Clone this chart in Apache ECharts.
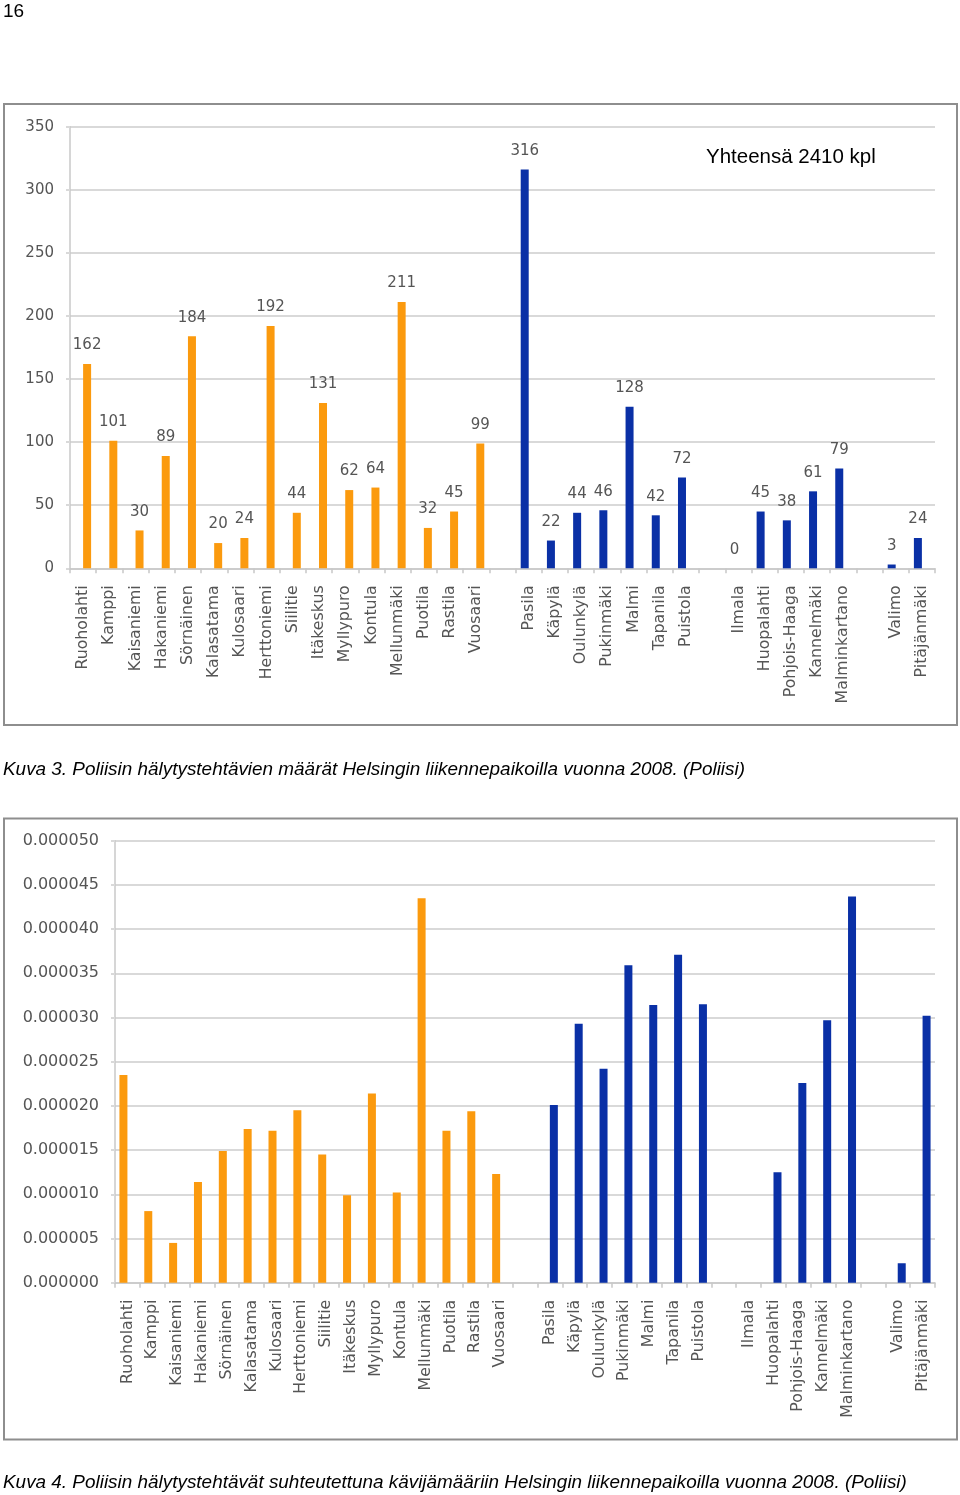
<!DOCTYPE html>
<html><head><meta charset="utf-8">
<script src="https://cdn.jsdelivr.net/npm/echarts@6/dist/echarts.min.js"></script>
<style>html,body{margin:0;padding:0;background:#fff}#c{width:960px;height:1495px}</style>
</head><body><div id="c"></div>
<script>
// ---- data ----
const categories = ['Ruoholahti','Kamppi','Kaisaniemi','Hakaniemi','Sörnäinen','Kalasatama','Kulosaari','Herttoniemi','Siilitie','Itäkeskus','Myllypuro','Kontula','Mellunmäki','Puotila','Rastila','Vuosaari',' ',
  'Pasila','Käpylä','Oulunkylä','Pukinmäki','Malmi','Tapanila','Puistola','  ',
  'Ilmala','Huopalahti','Pohjois-Haaga','Kannelmäki','Malminkartano','   ',
  'Valimo','Pitäjänmäki'];
const countsOrange = [162,101,30,89,184,20,24,192,44,131,62,64,211,32,45,99,'-',
  '-','-','-','-','-','-','-','-','-','-','-','-','-','-','-','-'];
const countsBlue = ['-','-','-','-','-','-','-','-','-','-','-','-','-','-','-','-','-',
  316,22,44,46,128,42,72,'-',0,45,38,61,79,'-',3,24];
const ratesOrange = [0.0000235,0.0000081,0.0000045,0.0000114,0.0000149,0.0000174,0.0000172,0.0000195,0.0000145,0.0000099,0.0000214,0.0000102,0.0000435,0.0000172,0.0000194,0.0000123,'-',
  '-','-','-','-','-','-','-','-','-','-','-','-','-','-','-','-'];
const ratesBlue = ['-','-','-','-','-','-','-','-','-','-','-','-','-','-','-','-','-',
  0.0000201,0.0000293,0.0000242,0.0000359,0.0000314,0.0000371,0.0000315,'-',0,0.0000125,0.0000226,0.0000297,0.0000437,'-',0.0000022,0.0000302];
const yTicks1 = [0,50,100,150,200,250,300,350];
const yTicks2 = [0,0.000005,0.00001,0.000015,0.00002,0.000025,0.00003,0.000035,0.00004,0.000045,0.00005];
const pageNumber = '16';
const totalNote = 'Yhteensä 2410 kpl';
const caption1 = 'Kuva 3. Poliisin hälytystehtävien määrät Helsingin liikennepaikoilla vuonna 2008. (Poliisi)';
const caption2 = 'Kuva 4. Poliisin hälytystehtävät suhteutettuna kävijämääriin Helsingin liikennepaikoilla vuonna 2008. (Poliisi)';

// ---- styles ----
const ORANGE = '#fb9a0e', BLUE = '#0a30a6';
const LBL = '#555555', GRID = '#d9d9d9', AX = '#c8c8c8';
const FF = '"DejaVu Sans", sans-serif';

function fitScale(text, font, target){
  const ctx = document.createElement('canvas').getContext('2d');
  ctx.font = font;
  return target / ctx.measureText(text).width;
}
const capFont = 'italic 19px "Liberation Sans"';
const capScale = fitScale(caption1, capFont, 742);

function xAxisCfg(gi){
  return {type:'category', gridIndex:gi, data:categories,
    axisLine:{lineStyle:{color:AX,width:1.5}},
    axisTick:{show:true,interval:0,length:5,lineStyle:{color:AX,width:1.5}},
    axisLabel:{rotate:90,interval:0,margin:17,color:LBL,fontFamily:FF,fontSize:15.8}};
}
function yAxisCfg(gi, ticks, fmt, fs){
  return {type:'value', gridIndex:gi, min:ticks[0], max:ticks[ticks.length-1], interval:ticks[1]-ticks[0],
    axisLine:{show:true,lineStyle:{color:AX,width:1.5}},
    axisTick:{show:true,length:4,lineStyle:{color:GRID,width:2}},
    splitLine:{show:true,lineStyle:{color:GRID,width:2}},
    axisLabel:{margin:16,color:LBL,fontFamily:FF,fontSize:fs,formatter:fmt}};
}
const valLabel = {show:true,position:'top',distance:11,color:LBL,fontFamily:FF,fontSize:15};

const chart = echarts.init(document.getElementById('c'), null, {renderer:'canvas'});
chart.setOption({
  animation:false,
  backgroundColor:'#fff',
  grid:[
    {left:70,right:25,top:126.7,bottom:1495-568.3},
    {left:115,right:25,top:840.7,bottom:1495-1282.7}
  ],
  xAxis:[xAxisCfg(0), xAxisCfg(1)],
  yAxis:[yAxisCfg(0, yTicks1, v=>String(v), 15), yAxisCfg(1, yTicks2, v=>v.toFixed(6), 16)],
  series:[
    {type:'bar',xAxisIndex:0,yAxisIndex:0,data:countsBlue,barWidth:8,barGap:'0%',itemStyle:{color:BLUE},label:valLabel},
    {type:'bar',xAxisIndex:0,yAxisIndex:0,data:countsOrange,barWidth:8,barGap:'0%',itemStyle:{color:ORANGE},label:valLabel},
    {type:'bar',xAxisIndex:1,yAxisIndex:1,data:ratesOrange,barWidth:8,barGap:'0%',itemStyle:{color:ORANGE}},
    {type:'bar',xAxisIndex:1,yAxisIndex:1,data:ratesBlue,barWidth:8,barGap:'0%',itemStyle:{color:BLUE}}
  ],
  graphic:[
    {type:'rect',shape:{x:4,y:104,width:953,height:621},style:{fill:null,stroke:'#8e8e8e',lineWidth:2},silent:true},
    {type:'rect',shape:{x:4,y:818.5,width:953,height:621},style:{fill:null,stroke:'#8e8e8e',lineWidth:2},silent:true},
    {type:'text',x:3,y:12,style:{text:pageNumber,font:'19px "Liberation Sans"',fill:'#000',textVerticalAlign:'middle'}},
    {type:'text',x:706,y:157,style:{text:totalNote,font:'20.5px "Liberation Sans"',fill:'#000',textVerticalAlign:'middle'}},
    {type:'text',x:3,y:770,scaleX:capScale,originX:0,style:{text:caption1,font:capFont,fill:'#000',textVerticalAlign:'middle'}},
    {type:'text',x:3,y:1483,scaleX:capScale,originX:0,style:{text:caption2,font:capFont,fill:'#000',textVerticalAlign:'middle'}}
  ]
});
</script>
</body></html>
